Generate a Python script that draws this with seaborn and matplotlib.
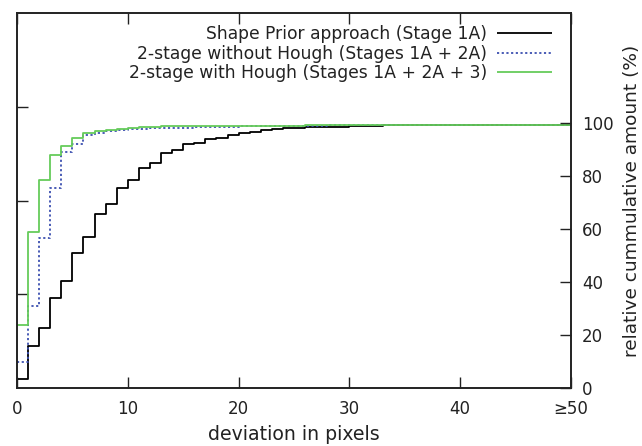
import numpy as np
import pandas as pd
import matplotlib
matplotlib.use("Agg")
import matplotlib.pyplot as plt
import seaborn as sns

# deviation bins (pixels); the last bin collects everything >= 50
deviation = list(range(0, 51))

# relative cumulative amount (%) per deviation bin
shape_prior = [3.5, 16.0, 22.5, 34.0, 40.5, 51.0, 57.0, 65.7, 69.3, 75.5,
               78.4, 83.0, 84.7, 88.4, 89.7, 91.8, 92.5, 93.7, 94.3, 95.5,
               96.0, 96.6, 97.1, 97.5, 97.8, 98.0, 98.2, 98.2, 98.2, 98.2,
               98.6, 98.6, 98.8, 99.0, 99.0, 99.0, 99.0, 99.0, 99.1, 99.1,
               99.1, 99.1, 99.1, 99.1, 99.1, 99.1, 99.1, 99.1, 99.1, 99.1,
               99.1]
two_stage_no_hough = [9.7, 31.0, 56.5, 75.5, 88.8, 92.0, 95.4, 96.2, 97.0, 97.3,
                      97.5, 97.7, 97.8, 97.9, 98.0, 98.1, 98.2, 98.3, 98.4, 98.5,
                      98.6, 98.7, 98.7, 98.8, 98.8, 98.9, 98.9, 98.9, 99.0, 99.0,
                      99.0, 99.0, 99.0, 99.1, 99.1, 99.1, 99.1, 99.1, 99.1, 99.1,
                      99.1, 99.1, 99.1, 99.1, 99.1, 99.1, 99.1, 99.1, 99.1, 99.1,
                      99.1]
two_stage_hough = [23.9, 58.6, 78.4, 87.8, 91.3, 94.3, 96.0, 96.8, 97.2, 97.5,
                   97.8, 98.2, 98.5, 98.6, 98.6, 98.7, 98.7, 98.7, 98.8, 98.8,
                   98.8, 98.8, 98.9, 98.9, 98.9, 98.9, 99.0, 99.0, 99.0, 99.0,
                   99.0, 99.0, 99.0, 99.1, 99.1, 99.1, 99.1, 99.1, 99.1, 99.1,
                   99.1, 99.1, 99.1, 99.1, 99.1, 99.1, 99.1, 99.1, 99.1, 99.1,
                   99.1]

labels = ["Shape Prior approach (Stage 1A)",
          "2-stage without Hough (Stages 1A + 2A)",
          "2-stage with Hough (Stages 1A + 2A + 3)"]
colors = ["#000000", "#3b4fb0", "#66cc5a"]
x_ticks = [0, 10, 20, 30, 40, 50]
x_tick_labels = ["0", "10", "20", "30", "40", "≥50"]
y_ticks = [0, 20, 40, 60, 80, 100]

sns.set_theme(style="white")
plt.rcParams["font.family"] = ["DejaVu Sans"]
plt.rcParams["font.size"] = 12

df = pd.DataFrame({
    "deviation": deviation * 3,
    "amount": shape_prior + two_stage_no_hough + two_stage_hough,
    "method": [labels[0]] * len(deviation) + [labels[1]] * len(deviation)
              + [labels[2]] * len(deviation),
})

fig = plt.figure(figsize=(6.42, 4.46), dpi=100)
ax = fig.add_axes([17 / 642, 58 / 446, (571 - 17) / 642, (388 - 13) / 446])

ymax = 141.3
styles = [(0, ()), (0, (1.2, 1.4)), (0, ())]
for lab, col, ls in zip(labels, colors, styles):
    sub = df[df["method"] == lab]
    sns.lineplot(data=sub, x="deviation", y="amount", ax=ax, color=col,
                 drawstyle="steps-post", linewidth=1.3, linestyle=ls,
                 label=lab, legend=False)

ax.set_xlim(0, 50)
ax.set_ylim(0, ymax)
ax.set_xticks(x_ticks)
ax.set_xticklabels(x_tick_labels)
ax.set_yticks([ymax / 4, ymax / 2, 3 * ymax / 4])
ax.set_yticklabels([])
ax.tick_params(axis="both", direction="in", length=8, width=1, color="#222222",
               top=True, left=True, bottom=True, right=False,
               labelsize=12, pad=9, labelcolor="#222222")
ax.set_xlabel("deviation in pixels", fontsize=13.6, color="#222222", labelpad=5)
ax.set_ylabel("")
for s in ax.spines.values():
    s.set_linewidth(1.4)
    s.set_color("#222222")

ax2 = ax.twinx()
ax2.set_ylim(0, ymax)
ax2.set_yticks(y_ticks)
ax2.tick_params(axis="y", direction="in", length=8, width=1, color="#222222",
                labelsize=12, pad=8, labelcolor="#222222")
ax2.set_ylabel("relative cummulative amount (%)", fontsize=13.3,
               color="#222222", labelpad=7)
for s in ax2.spines.values():
    s.set_visible(False)

handles, labs = ax.get_legend_handles_labels()
leg = ax.legend(handles, labs, loc="upper right", markerfirst=False,
                frameon=False, fontsize=12.3, handlelength=3.2,
                labelspacing=0.1, borderaxespad=0.4, handletextpad=0.6,
                bbox_to_anchor=(0.99, 1.005))
for t in leg.get_texts():
    t.set_color("#222222")

fig.savefig("out.png", dpi=100)
